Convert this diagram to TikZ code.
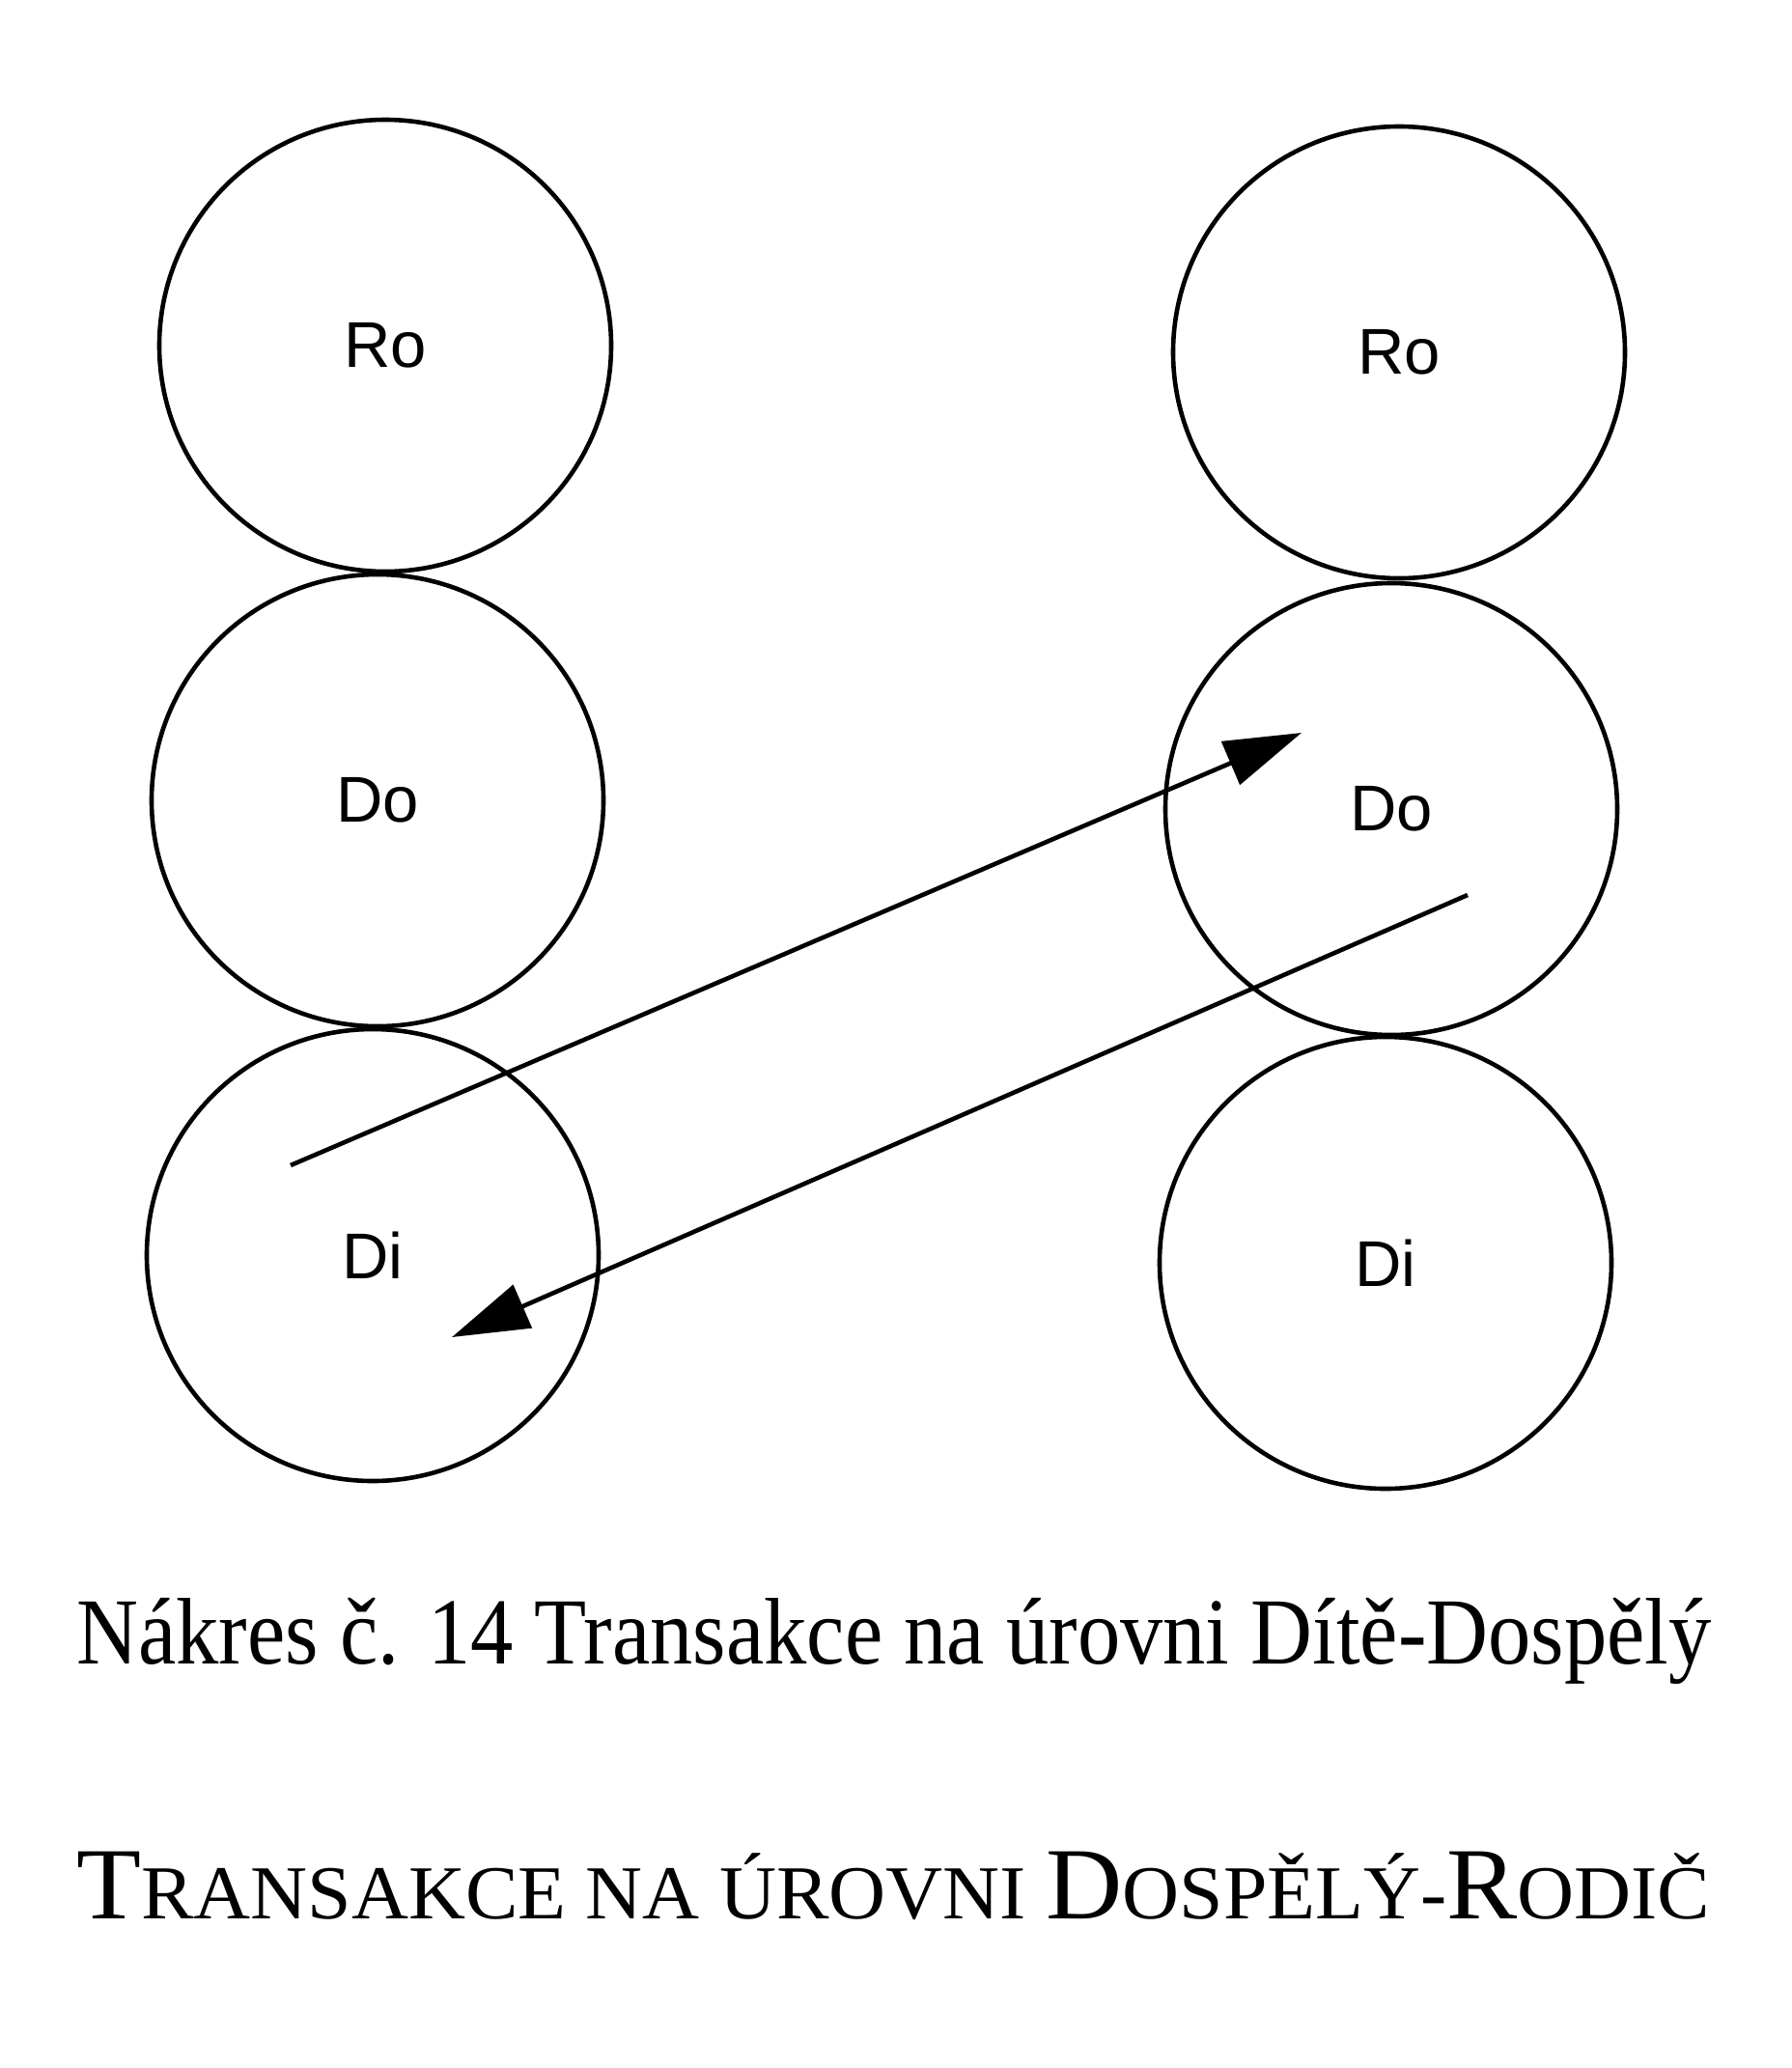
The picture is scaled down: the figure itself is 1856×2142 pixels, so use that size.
\documentclass[tikz,border=0pt]{standalone}
\usepackage{fontspec}
\usepackage{graphicx}
\setmainfont{Liberation Serif}
\newfontfamily\labelfont{Liberation Sans}
\usetikzlibrary{arrows.meta}
\tikzset{
  ego/.style={circle, draw, line width=2.3pt, minimum size=234pt, inner sep=0pt,
    font=\labelfont\fontsize{33.5}{40}\selectfont},
  conn/.style={line width=2.3pt, -{Triangle[length=40pt,width=24pt]}},
  capt/.style={anchor=base west, inner sep=0pt}
}
\begin{document}
\begin{tikzpicture}[x=0.5pt,y=-0.5pt]
\fill[white] (0,0) rectangle (1856,2142);
\useasboundingbox (0,0) rectangle (1856,2142);
% left ego states
\node[ego] (lRo) at (399,358) {Ro};
\node[ego] (lDo) at (391,829) {Do};
\node[ego] (lDi) at (386,1300) {Di};
% right ego states
\node[ego] (rRo) at (1449,365) {Ro};
\node[ego] (rDo) at (1441,838) {Do};
\node[ego] (rDi) at (1435,1308) {Di};
% transactions
\coordinate (a1s) at (301,1207);
\coordinate (a1e) at (1348,759);
\coordinate (a2s) at (1520,927);
\coordinate (a2e) at (468,1385);
\draw[conn] (a1s) -- (a1e);
\draw[conn] (a2s) -- (a2e);
% captions
\node[capt] (cap1) at (79,1723) {\resizebox{846.5pt}{\height}{\fontsize{49}{58}\selectfont Nákres č. 14 Transakce na úrovni Dítě-Dospělý}};
\node[capt] (cap2) at (79,1987) {\resizebox{846pt}{\height}{{\fontsize{53}{62}\selectfont T}{\fontsize{39.5}{48}\selectfont RANSAKCE NA ÚROVNI }{\fontsize{53}{62}\selectfont D}{\fontsize{39.5}{48}\selectfont OSPĚLÝ-}{\fontsize{53}{62}\selectfont R}{\fontsize{39.5}{48}\selectfont ODIČ}}};
\end{tikzpicture}
\end{document}
